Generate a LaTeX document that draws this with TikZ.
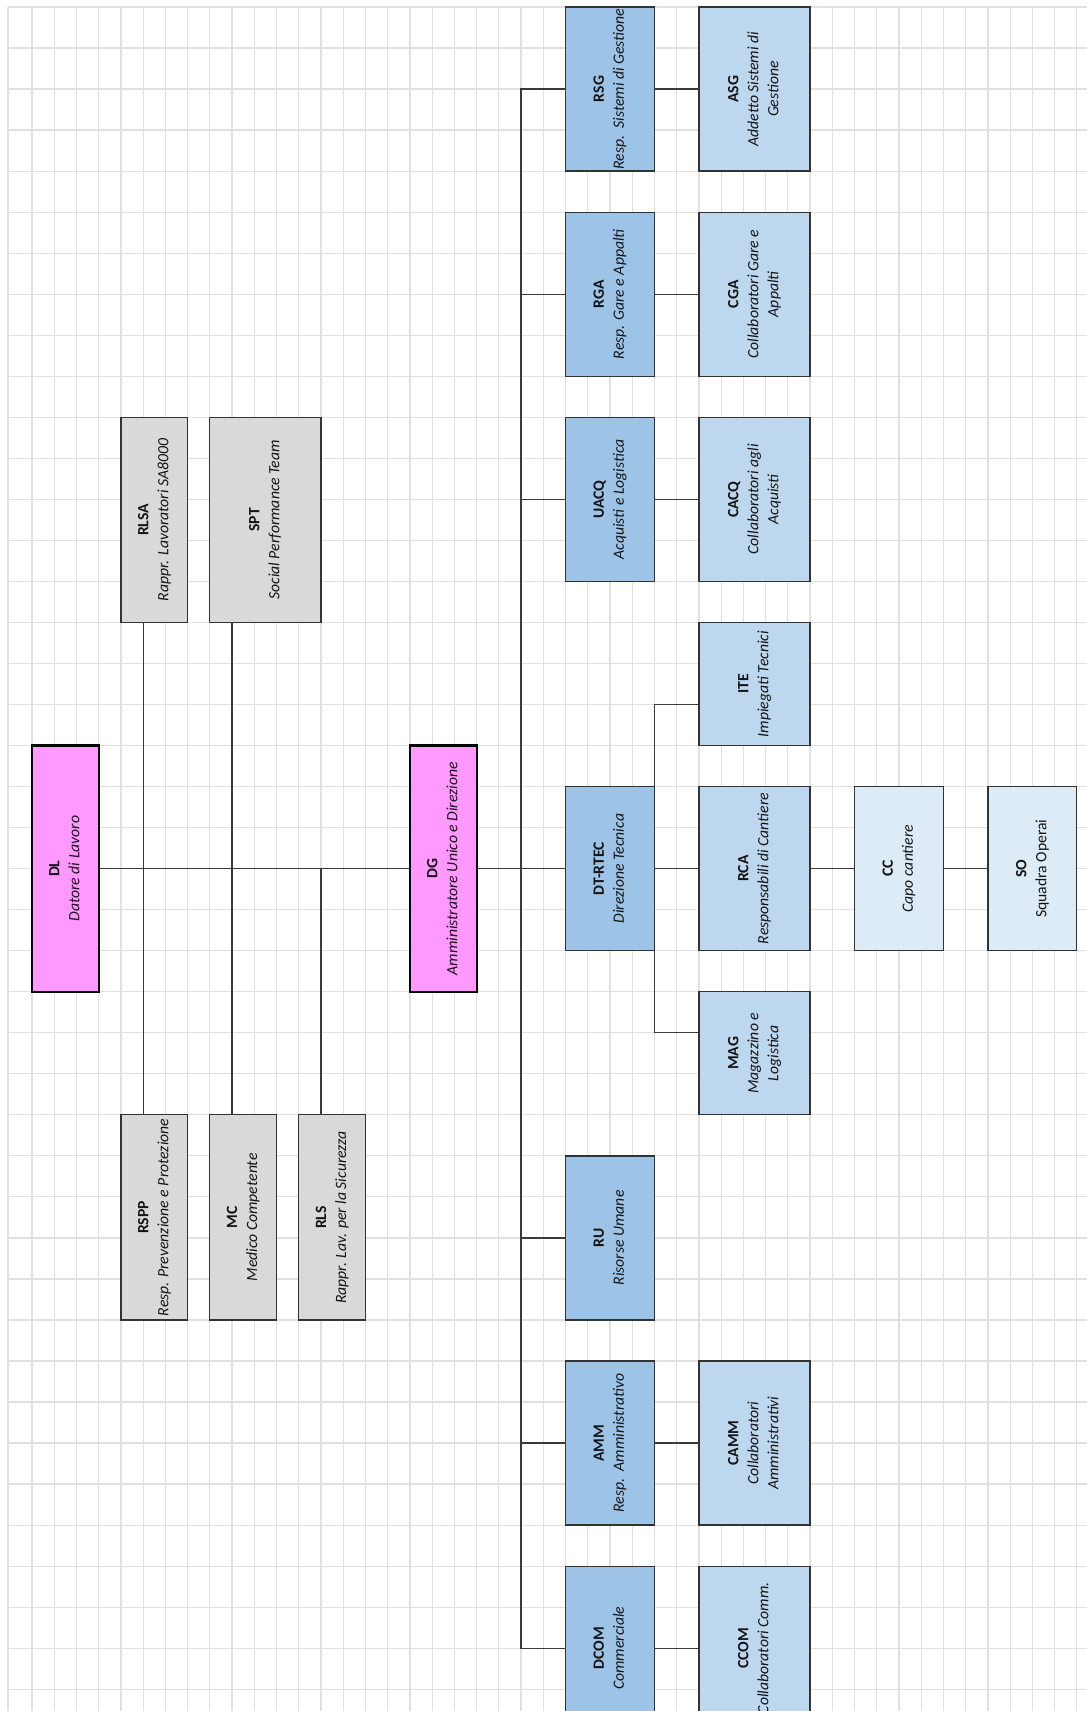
\documentclass[tikz,border=0pt]{standalone}
\usepackage{fontspec}
\setmainfont{Carlito}
\usepackage{graphicx}
\definecolor{pinkfill}{HTML}{FF99FF}
\definecolor{bluemid}{HTML}{9DC3E6}
\definecolor{bluelight}{HTML}{BDD7EE}
\definecolor{bluepale}{HTML}{DDEBF7}
\definecolor{grayfill}{HTML}{D9D9D9}
\definecolor{gridc}{HTML}{E0E0E0}
\definecolor{borderc}{HTML}{333333}
\definecolor{connc}{HTML}{3A3A3A}
\definecolor{textc}{HTML}{141414}
\tikzset{
  gridline/.style={draw=gridc, line width=1.2pt},
  orgbase/.style={draw=borderc, line width=1.3pt, inner sep=0pt, outer sep=0pt, text=textc, font=\fontsize{15.7}{20}\selectfont},
  pinkbox/.style={orgbase, fill=pinkfill, draw=black, line width=2.2pt},
  midbox/.style={orgbase, fill=bluemid},
  lightbox/.style={orgbase, fill=bluelight},
  palebox/.style={orgbase, fill=bluepale},
  graybox/.style={orgbase, fill=grayfill},
  conn/.style={draw=connc, line width=1.3pt},
}
\newcommand{\orgbox}[7]{%
  \node[#6, minimum width={(#3-#2)*22.23pt}, minimum height={(#5-#4)*41.03pt}] (#1)
    at ({32+(#2+#3)/2*22.23},{7+(#4+#5)/2*41.03})
    {\rotatebox{90}{\begin{tabular}{@{}c@{}}#7\end{tabular}}};}
\begin{document}
\begin{tikzpicture}[x=1pt,y=-1pt]
\useasboundingbox (0,0) rectangle (1087,1711);
\fill[white] (0,0) rectangle (1087,1711);
% grid
\draw[gridline] (8,7) -- (8,1711);
\foreach \k in {0,...,47} \draw[gridline] ({32+\k*22.23},7) -- ({32+\k*22.23},1711);
\foreach \j in {0,...,41} \draw[gridline] (8,{7+\j*41.03}) -- (1087,{7+\j*41.03});
% boxes
\orgbox{DL}{0}{3}{18}{24}{pinkbox}{\textbf{DL}\\\textit{Datore di Lavoro}}
\orgbox{DG}{17}{20}{18}{24}{pinkbox}{\textbf{DG}\\\textit{Amministratore Unico e Direzione}}
\orgbox{RLSA}{4}{7}{10}{15}{graybox}{\textbf{RLSA}\\\textit{Rappr. Lavoratori SA8000}}
\orgbox{SPT}{8}{13}{10}{15}{graybox}{\textbf{SPT}\\\textit{Social Performance Team}}
\orgbox{RSPP}{4}{7}{27}{32}{graybox}{\textbf{RSPP}\\\textit{Resp. Prevenzione e Protezione}}
\orgbox{MC}{8}{11}{27}{32}{graybox}{\textbf{MC}\\\textit{Medico Competente}}
\orgbox{RLS}{12}{15}{27}{32}{graybox}{\textbf{RLS}\\\textit{Rappr. Lav. per la Sicurezza}}
\orgbox{RSG}{24}{28}{0}{4}{midbox}{\textbf{RSG}\\\textit{Resp.~~Sistemi di Gestione}}
\orgbox{ASG}{30}{35}{0}{4}{lightbox}{\textbf{ASG}\\\textit{Addetto Sistemi di}\\\textit{Gestione}}
\orgbox{RGA}{24}{28}{5}{9}{midbox}{\textbf{RGA}\\\textit{Resp. Gare e Appalti}}
\orgbox{CGA}{30}{35}{5}{9}{lightbox}{\textbf{CGA}\\\textit{Collaboratori Gare e}\\\textit{Appalti}}
\orgbox{UACQ}{24}{28}{10}{14}{midbox}{\textbf{UACQ}\\\textit{Acquisti e Logistica}}
\orgbox{CACQ}{30}{35}{10}{14}{lightbox}{\textbf{CACQ}\\\textit{Collaboratori agli}\\\textit{Acquisti}}
\orgbox{ITE}{30}{35}{15}{18}{lightbox}{\textbf{ITE}\\\textit{Impiegati Tecnici}}
\orgbox{DTRTEC}{24}{28}{19}{23}{midbox}{\textbf{DT-RTEC}\\\textit{Direzione Tecnica}}
\orgbox{RCA}{30}{35}{19}{23}{lightbox}{\textbf{RCA}\\\textit{Responsabili di Cantiere}}
\orgbox{CC}{37}{41}{19}{23}{palebox}{\textbf{CC}\\\textit{Capo cantiere}}
\orgbox{SO}{43}{47}{19}{23}{palebox}{\textbf{SO}\\Squadra Operai}
\orgbox{MAG}{30}{35}{24}{27}{lightbox}{\textbf{MAG}\\\textit{Magazzino e}\\\textit{Logistica}}
\orgbox{RU}{24}{28}{28}{32}{midbox}{\textbf{RU}\\\textit{Risorse Umane}}
\orgbox{AMM}{24}{28}{33}{37}{midbox}{\textbf{AMM}\\\textit{Resp.~~Amministrativo}}
\orgbox{CAMM}{30}{35}{33}{37}{lightbox}{\textbf{CAMM}\\\textit{Collaboratori}\\\textit{Amministrativi}}
\orgbox{DCOM}{24}{28}{38}{42}{midbox}{\textbf{DCOM}\\\textit{Commerciale}}
\orgbox{CCOM}{30}{35}{38}{42}{lightbox}{\textbf{CCOM}\\\textit{Collaboratori Comm.}}
% helper coordinates
\coordinate (x5) at ({32+5*22.23},0);
\coordinate (x9) at ({32+9*22.23},0);
\coordinate (x13) at ({32+13*22.23},0);
\coordinate (trunk) at ({32+22*22.23},0);
\coordinate (y17) at (0,{7+17*41.03});
\coordinate (y25) at (0,{7+25*41.03});
% connectors
\draw[conn] (DL.east) -- (DG.west);
\draw[conn] (RLSA.south -| x5) -- (RSPP.north -| x5);
\draw[conn] (SPT.south -| x9) -- (MC.north -| x9);
\draw[conn] (DL.east -| x13) -- (RLS.north -| x13);
\draw[conn] (DG.east) -- (DTRTEC.west);
\draw[conn] (RSG.west) -- (RSG.west -| trunk) -- (DCOM.west -| trunk) -- (DCOM.west);
\foreach \n in {RGA,UACQ,RU,AMM} \draw[conn] (\n.west) -- (\n.west -| trunk);
\draw[conn] (RSG.east) -- (ASG.west);
\draw[conn] (RGA.east) -- (CGA.west);
\draw[conn] (UACQ.east) -- (CACQ.west);
\draw[conn] (DTRTEC.east) -- (RCA.west);
\draw[conn] (RCA.east) -- (CC.west);
\draw[conn] (CC.east) -- (SO.west);
\draw[conn] (AMM.east) -- (CAMM.west);
\draw[conn] (DCOM.east) -- (CCOM.west);
\draw[conn] (DTRTEC.north east) |- (ITE.west |- y17);
\draw[conn] (DTRTEC.south east) |- (MAG.west |- y25);
\end{tikzpicture}
\end{document}
